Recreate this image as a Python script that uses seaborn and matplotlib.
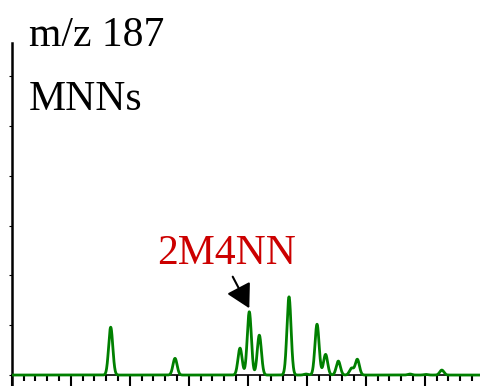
import numpy as np
import pandas as pd
import matplotlib
matplotlib.use("Agg")
import matplotlib.pyplot as plt
from matplotlib.ticker import MultipleLocator, NullFormatter
import seaborn as sns

# Peak table for the m/z 187 extracted ion chromatogram
retention_times = [1.678, 2.768, 3.870, 4.027, 4.197, 4.700, 4.990, 5.175, 5.320,
                   5.536, 5.760, 5.858, 6.750, 7.020, 7.290]
peak_heights = [0.96, 0.335, 0.54, 1.27, 0.80, 1.57, 0.02, 1.02, 0.415,
                0.28, 0.135, 0.315, 0.02, 0.012, 0.10]
peak_sigma = 0.035

trace_title = "m/z 187"
trace_group = "MNNs"
highlight_label = "2M4NN"
highlight_rt = 4.027
highlight_height = 1.27

# Build the chromatogram trace from the peak table
time_axis = np.linspace(0.0, 8.0, 3000)
signal = np.zeros_like(time_axis)
for rt, h in zip(retention_times, peak_heights):
    signal += h * np.exp(-0.5 * ((time_axis - rt) / peak_sigma) ** 2)
trace = pd.DataFrame({"time": time_axis, "intensity": signal})

sns.set_theme(style="white")
plt.rcParams["font.family"] = ["Liberation Serif", "DejaVu Serif"]

fig = plt.figure(figsize=(4.8, 3.86), dpi=100)
ax = fig.add_axes([11.7 / 480, 0.0, 1 - 11.7 / 480, (386 - 42.7) / 386])

sns.lineplot(data=trace, x="time", y="intensity", ax=ax, color="#008000",
             linewidth=2.0, zorder=3)

ax.set_xlim(0.0, (480 - 11.7) / 59.0)
ax.set_ylim(-0.22, 6.67)
ax.set_xlabel("")
ax.set_ylabel("")

for side in ("top", "right"):
    ax.spines[side].set_visible(False)
ax.spines["left"].set_color("black")
ax.spines["left"].set_linewidth(1.8)
ax.spines["bottom"].set_position(("data", 0.0))
ax.spines["bottom"].set_color("black")
ax.spines["bottom"].set_linewidth(1.2)

ax.xaxis.set_major_locator(MultipleLocator(1.0))
ax.xaxis.set_minor_locator(MultipleLocator(0.2))
ax.yaxis.set_major_locator(MultipleLocator(1.0))
ax.xaxis.set_major_formatter(NullFormatter())
ax.yaxis.set_major_formatter(NullFormatter())
ax.tick_params(axis="x", which="major", direction="out", length=9, width=1.5,
               color="black", bottom=True)
ax.tick_params(axis="x", which="minor", direction="out", length=4.5, width=1.5,
               color="black", bottom=True)
ax.tick_params(axis="y", which="major", direction="out", length=2, width=0.8,
               color="black", left=True)

ax.text(0.29, 6.6, trace_title, fontsize=30, color="black", ha="left", va="baseline")
ax.text(0.29, 5.32, trace_group, fontsize=30, color="black", ha="left", va="baseline")
ax.text(2.457, 2.22, highlight_label, fontsize=30, color="#cc0000", ha="left",
        va="baseline")
ax.annotate("", xy=(highlight_rt, highlight_height + 0.07), xytext=(3.746, 1.974),
            arrowprops=dict(arrowstyle="-|>,head_length=0.72,head_width=0.4",
                            color="black", lw=1.5, mutation_scale=20,
                            shrinkA=0, shrinkB=0))

fig.savefig("out.png", dpi=100)
